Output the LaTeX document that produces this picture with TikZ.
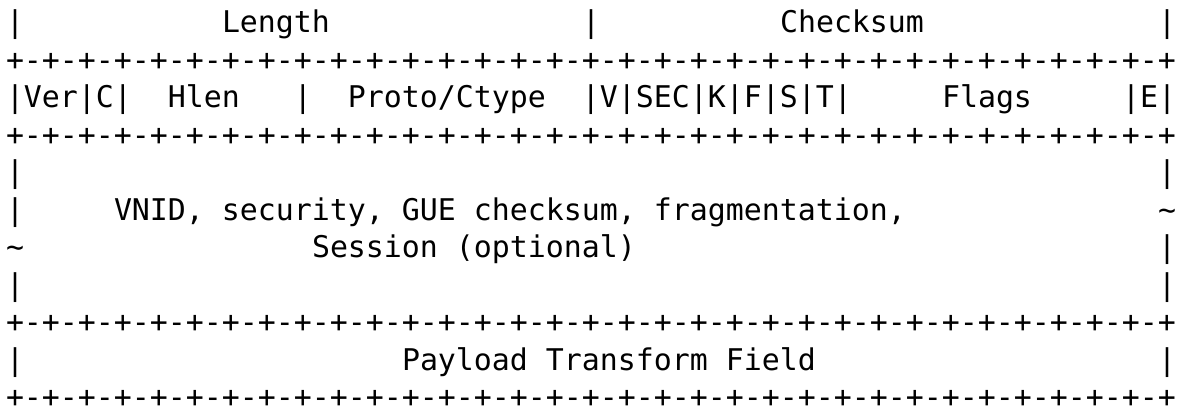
\documentclass[tikz,border=0pt]{standalone}
\usepackage{fontspec}
\setmonofont{DejaVu Sans Mono}
\newlength\cw
\newcommand\sk[1]{\hspace*{#1\cw}}
\newcommand\bitrule{+-+-+-+-+-+-+-+-+-+-+-+-+-+-+-+-+-+-+-+-+-+-+-+-+-+-+-+-+-+-+-+-+}
\newcommand\asciimono{\fontsize{29.898pt}{37.5pt}\ttfamily\frenchspacing}
\begin{document}
\settowidth\cw{\asciimono x}
\begin{tikzpicture}[x=1pt,y=1pt,
  row/.style={anchor=base west, inner sep=0pt, outer sep=0pt, font=\asciimono, text=black}]
\useasboundingbox (0,0) rectangle (1186,-414);
\node[row] (l1)  at (6,-32.8)  {|\sk{11}Length\sk{14}|\sk{10}Checksum\sk{13}|};
\node[row] (l2)  at (6,-70.3)  {\bitrule};
\node[row] (l3)  at (6,-107.8) {|Ver|C|\sk{2}Hlen\sk{3}|\sk{2}Proto/Ctype\sk{2}|V|SEC|K|F|S|T|\sk{5}Flags\sk{5}|E|};
\node[row] (l4)  at (6,-145.3) {\bitrule};
\node[row] (l5)  at (6,-182.8) {|\sk{63}|};
\node[row] (l6)  at (6,-220.3) {|\sk{5}VNID, security, GUE checksum, fragmentation,\sk{14}\textasciitilde};
\node[row] (l7)  at (6,-257.8) {\textasciitilde\sk{16}Session (optional)\sk{29}|};
\node[row] (l8)  at (6,-295.3) {|\sk{63}|};
\node[row] (l9)  at (6,-332.8) {\bitrule};
\node[row] (l10) at (6,-370.3) {|\sk{21}Payload Transform Field\sk{19}|};
\node[row] (l11) at (6,-407.8) {\bitrule};
\end{tikzpicture}
\end{document}
